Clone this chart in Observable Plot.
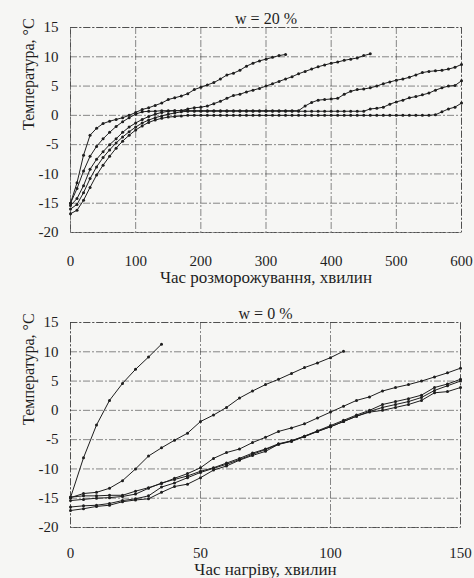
<!DOCTYPE html>
<html>
<head>
<meta charset="utf-8">
<script src="https://cdn.jsdelivr.net/npm/d3@7"></script>
<script src="https://cdn.jsdelivr.net/npm/@observablehq/plot@0.6"></script>
<style>
  html, body { margin: 0; padding: 0; background: #f6f6f4; }
  #wrap { position: relative; width: 474px; height: 578px; overflow: hidden; }
  #top, #bottom { position: absolute; left: 0; }
  #top { top: 0; }
  #bottom { top: 290px; }
  #wrap svg, #wrap svg text { font-family: "Liberation Serif", "Times New Roman", "DejaVu Serif", serif !important; }
</style>
</head>
<body>
<div id="wrap"><div id="top"></div><div id="bottom"></div></div>
<script>
// ---- Top chart: w = 20 %, time in minutes (step 10) ----
const timeTop = [0,10,20,30,40,50,60,70,80,90,100,110,120,130,140,150,160,170,180,190,200,210,220,230,240,250,260,270,280,290,300,310,320,330,340,350,360,370,380,390,400,410,420,430,440,450,460,470,480,490,500,510,520,530,540,550,560,570,580,590,600];
const top1 = [-15,-11.5,-6.8,-3.4,-2.2,-1.4,-1.0,-0.7,-0.4,0.0,0.5,1.0,1.3,1.7,2.1,2.7,3.0,3.3,3.7,4.4,4.8,5.2,5.6,6.2,6.9,7.2,7.7,8.4,8.9,9.3,9.6,9.9,10.2,10.4];
const top2 = [-15,-12.5,-9.5,-7.0,-5.3,-4.0,-2.9,-1.9,-1.1,-0.4,0.2,0.6,0.7,0.7,0.8,0.8,0.8,0.8,1.1,1.3,1.4,1.6,2.0,2.4,2.9,3.4,3.6,4.0,4.3,4.6,5.0,5.4,5.8,6.2,6.6,7.1,7.5,7.9,8.3,8.6,8.9,9.1,9.4,9.6,9.8,10.2,10.5];
const top3 = [-15.4,-14.2,-12.0,-9.2,-7.5,-6.2,-5.0,-4.0,-2.9,-2.0,-1.3,-0.7,-0.2,0.2,0.5,0.7,
  0.8,0.8,0.8,0.8,0.8,0.8,0.8,0.8,0.8,0.8,0.8,0.8,0.8,0.8,0.8,0.8,0.8,0.8,0.8,0.8,
  1.6,2.2,2.6,2.7,2.8,2.9,3.6,4.1,4.4,4.5,4.7,5.0,5.4,5.7,6.0,6.2,6.5,6.9,7.3,7.5,7.6,7.7,7.9,8.2,8.7];
const top4 = [-16.0,-15.2,-13.2,-10.8,-8.8,-7.2,-5.9,-4.7,-3.7,-2.8,-2.0,-1.3,-0.8,-0.4,-0.1,0.2,0.4,0.6,
  0.7,0.7,0.7,0.7,0.7,0.7,0.7,0.7,0.7,0.7,0.7,0.7,0.7,0.7,0.7,0.7,0.7,0.7,0.7,0.7,0.7,0.7,0.7,0.7,0.7,0.7,0.7,0.7,
  1.1,1.2,1.4,1.9,2.3,2.6,3.0,3.2,3.5,3.8,4.3,4.7,5.0,5.1,5.9];
const top5 = [-16.8,-16.2,-14.5,-12.3,-10.2,-8.5,-7.0,-5.6,-4.4,-3.4,-2.5,-1.8,-1.2,-0.8,-0.5,-0.3,-0.2,-0.1,
  0,0,0,0,0,0,0,0,0,0,0,0,0,0,0,0,0,0,0,0,0,0,0,0,0,0,0,0,0,0,0,0,0,0,0,0,0,0,
  0.1,0.6,1.1,1.4,2.1];
const xTicksTop = [0,100,200,300,400,500,600];

// ---- Bottom chart: w = 0 %, time in minutes (step 5) ----
const timeBottom = [0,5,10,15,20,25,30,35,40,45,50,55,60,65,70,75,80,85,90,95,100,105,110,115,120,125,130,135,140,145,150];
const botA = [-14.9,-8.1,-2.5,1.7,4.6,7.0,9.1,11.3];
const botB = [-14.9,-14.2,-14.0,-13.3,-12.0,-10.0,-7.8,-6.4,-5.1,-3.9,-1.9,-0.8,0.5,2.1,3.3,4.4,5.3,6.3,7.3,8.1,9.0,10.1];
const botC = [-14.8,-14.6,-14.6,-14.5,-14.5,-13.8,-13.2,-12.5,-11.6,-10.8,-9.8,-8.2,-7.2,-6.6,-5.5,-4.6,-3.6,-3.0,-2.3,-1.3,-0.3,0.7,1.7,2.3,3.3,3.9,4.4,5.0,5.7,6.4,7.2];
const botD = [-15.4,-15.2,-15.0,-14.9,-14.7,-14.3,-13.3,-12.4,-11.8,-11.2,-10.4,-9.8,-9.0,-8.2,-7.3,-6.6,-5.7,-5.2,-4.4,-3.5,-2.6,-1.7,-0.8,0.0,1.0,1.5,2.0,2.6,3.9,4.5,5.3];
const botE = [-16.5,-16.3,-16.2,-15.9,-15.4,-15.1,-14.6,-13.1,-12.4,-11.5,-10.6,-9.9,-9.2,-8.4,-7.5,-6.7,-5.8,-5.3,-4.5,-3.6,-2.8,-1.9,-1.0,-0.2,0.5,1.0,1.5,2.2,3.4,4.2,5.0];
const botF = [-17.1,-16.8,-16.4,-16.2,-15.6,-15.3,-15.1,-14.0,-13.0,-12.6,-11.5,-10.2,-9.5,-8.5,-7.7,-7.0,-5.8,-5.2,-4.4,-3.6,-2.8,-1.9,-1.0,-0.3,0.0,0.5,1.0,1.7,3.0,3.2,3.9];
const xTicksBottom = [0,50,100,150];

const yTicks = [-20,-15,-10,-5,0,5,10,15];
const yLabel = "Температура, °C";

function rows(times, seriesList) {
  const out = [];
  seriesList.forEach((vals, s) => vals.forEach((v, i) => out.push({t: times[i], v, s})));
  return out;
}

const ink = "#1e1e1e";
const gridStyle = {stroke: "#3a3a3a", strokeOpacity: 0.75, strokeWidth: 0.8, strokeDasharray: "7,2,2,2"};

function chart(o) {
  return Plot.plot({
    width: 474, height: o.height,
    marginTop: o.mt, marginBottom: o.mb, marginLeft: 70, marginRight: o.mr,
    style: {fontFamily: "Liberation Serif, serif", fontSize: "15px", background: "transparent", color: ink},
    x: {domain: o.xDomain, label: null},
    y: {domain: [-20, 15], label: null},
    marks: [
      Plot.gridX(o.xTicks, gridStyle),
      Plot.gridY(yTicks, gridStyle),
      Plot.frame({stroke: "#3a3a3a", strokeOpacity: 0.8, strokeWidth: 0.9, strokeDasharray: "7,2,2,2"}),
      Plot.axisX(o.xTicks, {tickSize: 0, tickPadding: o.xPad, tickFormat: d => String(d), fontSize: 15, label: null}),
      Plot.axisY(yTicks, {tickSize: 0, tickPadding: 12, tickFormat: d => String(d), fontSize: 15, label: null}),
      Plot.line(o.data, {x: "t", y: "v", z: "s", stroke: ink, strokeWidth: 1}),
      Plot.dot(o.data, {x: "t", y: "v", r: 1.5, fill: ink, stroke: "none"}),
      Plot.text([o.title], {frameAnchor: "top", lineAnchor: "middle", dy: -9, fontSize: 16, fill: ink}),
      Plot.text([o.xLabel], {frameAnchor: "bottom", lineAnchor: "middle", dy: o.xLabelDy, fontSize: 17, fill: ink}),
      Plot.text([yLabel], {frameAnchor: "left", lineAnchor: "middle", rotate: -90, dx: -42, fontSize: 16, fill: ink})
    ]
  });
}

document.getElementById("top").append(chart({
  height: 290, mt: 27, mb: 58, mr: 13, xPad: 23,
  xDomain: [0, 600], xTicks: xTicksTop,
  data: rows(timeTop, [top1, top2, top3, top4, top5]),
  title: "w = 20 %", xLabel: "Час розморожування, хвилин", xLabelDy: 45
}));

document.getElementById("bottom").append(chart({
  height: 288, mt: 32, mb: 51, mr: 14, xPad: 20,
  xDomain: [0, 150], xTicks: xTicksBottom,
  data: rows(timeBottom, [botA, botB, botC, botD, botE, botF]),
  title: "w = 0 %", xLabel: "Час нагріву, хвилин", xLabelDy: 42
}));
</script>
</body>
</html>
